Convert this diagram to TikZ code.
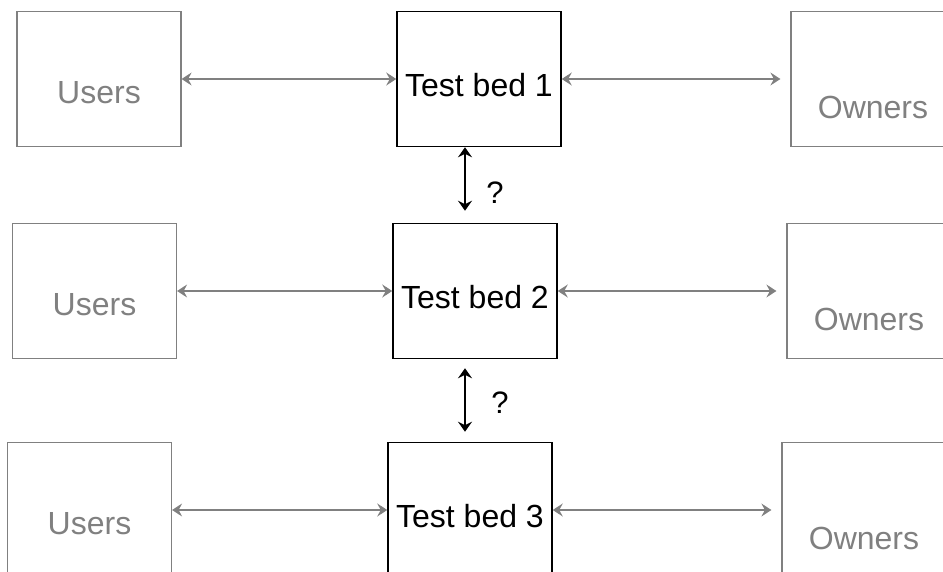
\documentclass[tikz,border=0pt]{standalone}
\usepackage{fontspec}
\setmainfont{Liberation Sans}
\usetikzlibrary{arrows.meta}
\definecolor{softgray}{HTML}{808080}

\begin{document}
\begin{tikzpicture}[x=1pt, y=-1pt,
    box/.style={minimum width=164pt, minimum height=135pt, inner sep=0pt, text depth=0pt, font=\fontsize{32}{38}\selectfont},
    bed/.style={box, draw=black, line width=1.5pt, text height=35pt},
    users/.style={box, draw=softgray, text=softgray, line width=1.2pt, text height=49pt},
    owners/.style={box, draw=softgray, text=softgray, line width=1.2pt, text height=79pt},
    link/.style={softgray, line width=1.2pt, {Stealth[length=10pt, width=13pt, inset=3.5pt]}-{Stealth[length=10pt, width=13pt, inset=3.5pt]}},
    qlink/.style={black, line width=1.4pt, {Stealth[length=10pt, width=14pt, inset=3.5pt]}-{Stealth[length=10pt, width=14pt, inset=3.5pt]}},
    qmark/.style={font=\fontsize{31}{37}\selectfont}]
    \useasboundingbox (0,0) rectangle (943,572);
    \clip (0,0) rectangle (943,572);

    % row 1
    \node[users] (u1) at (99,79) {Users};
    \node[bed] (tb1) at (479,79) {Test bed 1};
    \node[owners] (o1) at (873,79) {Owners};
    \draw[link] (u1) -- (tb1);
    \draw[link, shorten >=10pt] (tb1) -- (o1);

    % row 2
    \node[users] (u2) at (94.5,291) {Users};
    \node[bed] (tb2) at (475,291) {Test bed 2};
    \node[owners] (o2) at (869,291) {Owners};
    \draw[link] (u2) -- (tb2);
    \draw[link, shorten >=10pt] (tb2) -- (o2);

    % row 3
    \node[users] (u3) at (89.5,510) {Users};
    \node[bed] (tb3) at (470,510) {Test bed 3};
    \node[owners] (o3) at (864,510) {Owners};
    \draw[link] (u3) -- (tb3);
    \draw[link, shorten >=10pt] (tb3) -- (o3);

    % links between the test beds
    \coordinate (q) at (465,0);
    \draw[qlink, shorten >=12pt] (tb1.south -| q) -- (tb2.north -| q);
    \node[qmark] (q1) at (495,193) {?};
    \draw[qlink, shorten <=9pt, shorten >=10pt] (tb2.south -| q) -- (tb3.north -| q);
    \node[qmark] (q2) at (500,403) {?};
\end{tikzpicture}
\end{document}
